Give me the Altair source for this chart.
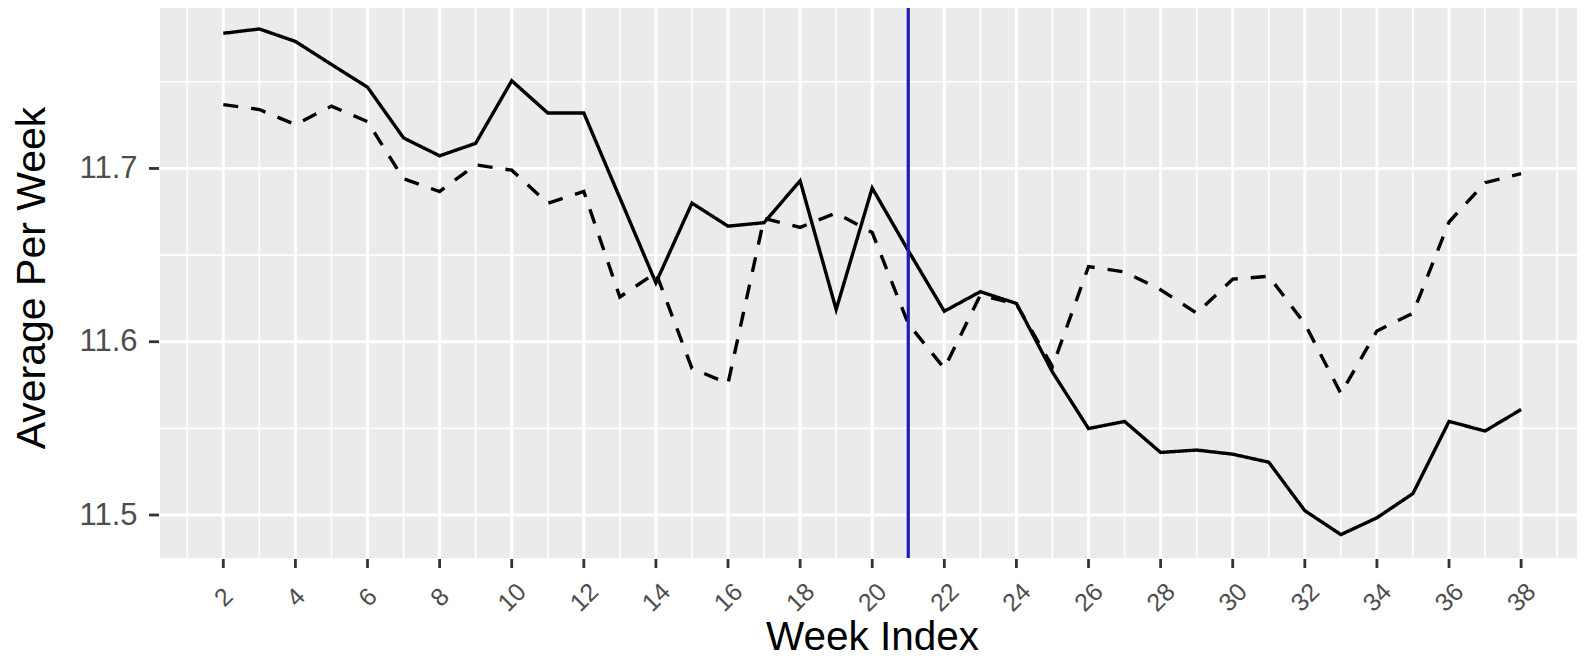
import altair as alt
import pandas as pd

weeks = list(range(2, 39))
solid_vals = [11.778, 11.7805, 11.7733, 11.760, 11.7469, 11.7176, 11.7073, 11.7145, 11.7506,
              11.732, 11.732, 11.683, 11.634, 11.680, 11.6667, 11.6687, 11.6929, 11.6186,
              11.6887, 11.6526, 11.6176, 11.6289, 11.6221, 11.5825, 11.5499, 11.554, 11.5361,
              11.5375, 11.5351, 11.5305, 11.5025, 11.4887, 11.4984, 11.5124, 11.554, 11.5485,
              11.5609]
dashed_vals = [11.7368, 11.734, 11.7253, 11.736, 11.727, 11.694, 11.6867, 11.7021, 11.699,
               11.6799, 11.6867, 11.6258, 11.6399, 11.5846, 11.5759, 11.6712, 11.666, 11.6743,
               11.663, 11.6104, 11.5846, 11.6269, 11.6217, 11.5856, 11.6434, 11.6403, 11.63,
               11.6165, 11.6361, 11.6378, 11.6104, 11.5701, 11.6062, 11.6165, 11.6691, 11.6918,
               11.697]
series_names = ["Solid", "Dashed"]

x_major = list(range(2, 39, 2))
x_minor = list(range(1, 40, 2))
y_major = [11.5, 11.6, 11.7]
y_minor = [11.55, 11.65, 11.75]
vline_week = [21]

x_domain = [0.244, 39.55]
y_domain = [11.4752, 11.7949]

FONT = "Liberation Sans, Arial, Helvetica, sans-serif"

df = pd.DataFrame({
    "week": weeks * 2,
    "value": solid_vals + dashed_vals,
    "series": [series_names[0]] * len(weeks) + [series_names[1]] * len(weeks),
})

# panel geometry (inside a slightly larger group that also holds the tick marks)
PW, PH = 1417, 554      # panel size
TL = 12                 # room for y ticks at the left
TB = 10                 # room for x ticks at the bottom
GW, GH = PW + TL, PH + TB

xs = alt.Scale(domain=x_domain, nice=False, zero=False, range=[TL, TL + PW])
ys = alt.Scale(domain=y_domain, nice=False, zero=False, range=[PH, 0])

x_axis = alt.Axis(
    values=x_major, title="Week Index", grid=False, domain=False, ticks=False,
    labelAngle=315, labelAlign="center", labelBaseline="middle", labelPadding=29,
    labelFontSize=25, labelColor="#4D4D4D", labelFont=FONT,
    titleFontSize=40.5, titleFont=FONT, titleColor="#000000", titleFontWeight="normal",
    titleX=724, titleY=81, titleBaseline="alphabetic", titleAlign="center",
    labelOverlap=False,
)
y_axis = alt.Axis(
    values=y_major, format=".1f", title="Average Per Week", grid=False, domain=False, ticks=False,
    labelFontSize=31, labelColor="#4D4D4D", labelFont=FONT, labelPadding=11,
    titleFontSize=41, titleFont=FONT, titleColor="#000000", titleFontWeight="normal",
    titleAngle=270, titleX=-104, titleY=273.5, titleBaseline="alphabetic", titleAlign="center",
)

bg = alt.Chart(pd.DataFrame({"a": [0]})).mark_rect(color="#EBEBEB").encode(
    x=alt.value(TL), x2=alt.value(TL + PW), y=alt.value(0), y2=alt.value(PH))

xmin_df = pd.DataFrame({"x": x_minor})
xmaj_df = pd.DataFrame({"x": x_major})
ymin_df = pd.DataFrame({"y": y_minor})
ymaj_df = pd.DataFrame({"y": y_major})

grid_x_minor = alt.Chart(xmin_df).mark_rule(color="white", strokeWidth=1.6).encode(
    x=alt.X("x:Q", scale=xs, axis=x_axis))
grid_y_minor = alt.Chart(ymin_df).mark_rule(color="white", strokeWidth=1.6).encode(
    y=alt.Y("y:Q", scale=ys, axis=y_axis))
grid_x_major = alt.Chart(xmaj_df).mark_rule(color="white", strokeWidth=3.0).encode(
    x=alt.X("x:Q", scale=xs, axis=x_axis))
grid_y_major = alt.Chart(ymaj_df).mark_rule(color="white", strokeWidth=3.0).encode(
    y=alt.Y("y:Q", scale=ys, axis=y_axis))

# ggplot-style tick marks just outside the panel
x_ticks = alt.Chart(xmaj_df).mark_tick(color="#333333", thickness=2.8, size=9,
                                       orient="vertical", opacity=1).encode(
    x=alt.X("x:Q", scale=xs, axis=x_axis), y=alt.value(PH + 5.5))
y_ticks = alt.Chart(ymaj_df).mark_tick(color="#333333", thickness=2.8, size=10,
                                       orient="horizontal", opacity=1).encode(
    y=alt.Y("y:Q", scale=ys, axis=y_axis), x=alt.value(6))

lines = alt.Chart(df).mark_line(color="black", strokeWidth=3.4).encode(
    x=alt.X("week:Q", scale=xs, axis=x_axis),
    y=alt.Y("value:Q", scale=ys, axis=y_axis),
    strokeDash=alt.StrokeDash("series:N",
                              scale=alt.Scale(domain=series_names, range=[[1, 0], [15, 13]]),
                              legend=None),
)

vline = alt.Chart(pd.DataFrame({"w": vline_week})).mark_rule(color="#1C1CB0", strokeWidth=3.2).encode(
    x=alt.X("w:Q", scale=xs, axis=x_axis), y=alt.value(0), y2=alt.value(PH))

chart = alt.layer(bg, grid_x_minor, grid_y_minor, grid_x_major, grid_y_major,
                  x_ticks, y_ticks, lines, vline).properties(
    width=GW, height=GH,
    padding={"left": 140, "top": -4, "right": 0, "bottom": 90},
    autosize=alt.AutoSizeParams(type="none"),
).configure(background="white").configure_view(stroke=None)

chart.save("out.html", embed_options={"renderer": "svg", "actions": False})
